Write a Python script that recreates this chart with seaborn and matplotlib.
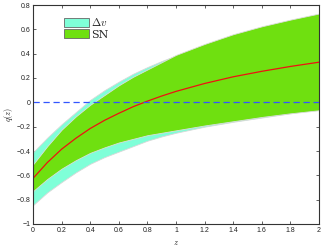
import numpy as np
import pandas as pd
import seaborn as sns
import matplotlib.pyplot as plt
from matplotlib.patches import Patch

# values
z = [0.0, 0.1, 0.2, 0.3, 0.4, 0.5, 0.6, 0.7, 0.8, 0.9, 1.0, 1.2, 1.4, 1.6, 1.8, 2.0]
q_best = [-0.625, -0.495, -0.385, -0.295, -0.215, -0.148, -0.09, -0.036, 0.01, 0.052,
          0.09, 0.155, 0.21, 0.255, 0.295, 0.33]
sn_upper = [-0.51, -0.36, -0.225, -0.115, -0.02, 0.06, 0.14, 0.21, 0.27, 0.33,
            0.39, 0.48, 0.56, 0.625, 0.68, 0.73]
sn_lower = [-0.73, -0.63, -0.545, -0.475, -0.415, -0.37, -0.33, -0.30, -0.27, -0.25,
            -0.23, -0.19, -0.155, -0.12, -0.09, -0.065]
dv_upper = [-0.41, -0.29, -0.18, -0.08, 0.02, 0.10, 0.17, 0.235, 0.29, 0.34,
            0.385, 0.47, 0.545, 0.61, 0.665, 0.71]
dv_lower = [-0.845, -0.74, -0.655, -0.575, -0.505, -0.45, -0.405, -0.36, -0.315, -0.28,
            -0.25, -0.2, -0.16, -0.125, -0.09, -0.055]

df = pd.DataFrame({'z': z, 'q': q_best})

sns.set_style('ticks')
plt.rcParams['font.family'] = ['Liberation Sans', 'DejaVu Sans']
plt.rcParams['mathtext.fontset'] = 'cm'

fig = plt.figure(figsize=(3.32, 2.5), dpi=100)
ax = fig.add_axes([0.0994, 0.104, 0.8616, 0.876])

cyan = '#7fffd8'
green = '#6fe010'
ax.fill_between(z, dv_lower, dv_upper, color=cyan, edgecolor='#d8d8d8', linewidth=0.6)
ax.fill_between(z, sn_lower, sn_upper, color=green, edgecolor='#dddddd', linewidth=0.6)
sns.lineplot(data=df, x='z', y='q', color='#ee1111', linewidth=0.9, ax=ax)
ax.axhline(0, color='#3355ff', linestyle=(0, (5, 3)), linewidth=0.9)

ax.set_xlim(0, 2)
ax.set_ylim(-1, 0.8)
ax.set_xticks(np.arange(0, 2.01, 0.2))
ax.set_xticklabels(['0', '0.2', '0.4', '0.6', '0.8', '1', '1.2', '1.4', '1.6', '1.8', '2'])
ax.set_yticks(np.arange(-1, 0.81, 0.2))
ax.set_yticklabels(['\u22121', '\u22120.8', '\u22120.6', '\u22120.4', '\u22120.2', '0',
                    '0.2', '0.4', '0.6', '0.8'])
ax.tick_params(direction='in', length=2.5, width=0.5, labelsize=5, pad=2,
               top=True, right=True, colors='#222222')
for s in ax.spines.values():
    s.set_linewidth(0.8)
    s.set_color('#333333')
ax.set_xlabel('$z$', fontsize=6, labelpad=4)
ax.set_ylabel('$q(z)$', fontsize=6, labelpad=1)

handles = [Patch(facecolor=cyan, edgecolor='#666666', linewidth=0.6, label=r'$\Delta v$'),
           Patch(facecolor=green, edgecolor='#666666', linewidth=0.6, label='SN')]
leg = ax.legend(handles=handles, loc='upper left', bbox_to_anchor=(0.08, 0.985),
                frameon=False, handlelength=2.3, handleheight=0.9,
                handletextpad=0.2, labelspacing=0.1, borderpad=0.2,
                prop={'family': 'DejaVu Serif', 'size': 8})

fig.savefig('out.png', dpi=100)
